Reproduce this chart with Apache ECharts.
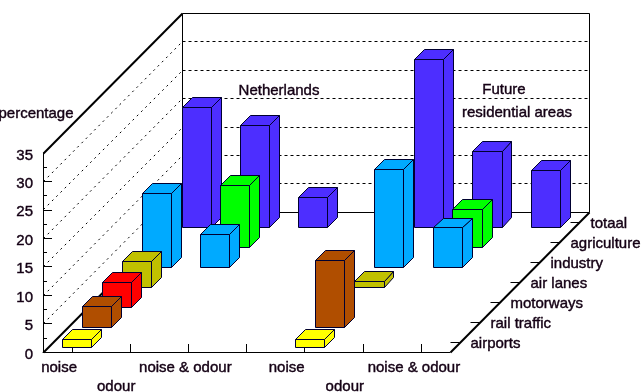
<!DOCTYPE html>
<html>
<head>
<meta charset="utf-8">
<style>
html, body { margin: 0; padding: 0; background: #fff; overflow: hidden; }
#chart { width: 642px; height: 392px; }
</style>
<script src="https://cdn.jsdelivr.net/npm/echarts@6/dist/echarts.min.js"></script>
</head>
<body>
<div id="chart"></div>
<script>
// categories
var xLabels = ['noise', 'odour', 'noise & odour', '', 'noise', 'odour', 'noise & odour'];
var depthLabels = ['airports', 'rail traffic', 'motorways', 'air lanes', 'industry', 'agriculture', 'totaal'];
var yTicks = [5, 10, 15, 20, 25, 30];

// values per depth row
var airports    = [1.4, null, null, null, 1.4, null, null];
var railTraffic = [3.6, null, null, null, 11.7, null, null];
var motorways   = [4.3, null, null, null, null, null, null];
var airLanes    = [4.6, null, null, null, 0.95, null, null];
var industry    = [13.0, 5.7, null, null, 17.2, 6.9, null];
var agriculture = [null, 10.9, null, null, null, 6.6, null];
var totaal      = [21.1, 17.9, 5.3, null, 29.5, 13.3, 10.0];

var rows = [airports, railTraffic, motorways, airLanes, industry, agriculture, totaal];
var rowColors = ['#ffff00', '#b04e00', '#ff0000', '#c0c000', '#00aaff', '#00ff00', '#4d2eff'];

var FONT = '"Liberation Sans", Arial, sans-serif';
var FONT_SIZE = 15;
var TEXT = '#140014';
var HEAVY = 0.4;    // the reference text is drawn a bit heavier than regular
var EDGE = '#000030';
var STEP = 19.95;   // screen shift per depth row, right and up
var BAR_W = 0.25;   // half bar width, as part of a category band

// x label offset to the left and second row flag
var labelShift = [13, 14, 3, 0, 18, 18, 7];
var labelRow = [0, 1, 0, 0, 0, 1, 0];

var rich = {};
labelShift.forEach(function (s, i) {
    rich['l' + i] = {
        fontFamily: FONT, fontSize: FONT_SIZE, color: TEXT,
        textBorderColor: TEXT, textBorderWidth: HEAVY,
        padding: [labelRow[i] ? 19 : 0, s * 2, 0, 0]
    };
});

function crisp(v) { return Math.round(v - 0.5) + 0.5; }

// category + value + depth to screen
function project(api, cat, shift, val, depth) {
    var p = api.coord([cat, val]);
    var band = api.size([1, 0])[0];
    return [crisp(p[0] + shift * band + depth * STEP), crisp(p[1] - depth * STEP)];
}

function poly(points, fill) {
    return {
        type: 'polygon',
        shape: { points: points },
        style: { fill: fill, stroke: EDGE, lineWidth: 1 }
    };
}

function line(a, b, width, dash) {
    return {
        type: 'line',
        shape: { x1: a[0], y1: a[1], x2: b[0], y2: b[1] },
        style: { stroke: '#000', lineWidth: width, lineDash: dash || null }
    };
}

function label_style(text, align) {
    return {
        text: text, fill: TEXT, stroke: TEXT, lineWidth: HEAVY,
        font: FONT_SIZE + 'px ' + FONT,
        textAlign: align, textVerticalAlign: 'middle'
    };
}

function render_walls(params, api) {
    var n = xLabels.length, d = depthLabels.length, ymax = 35;
    var L = -0.5, R = n - 0.5;
    function at(x, v, dp) { return project(api, 0, x, v, dp); }
    var kids = [
        line(at(L, ymax, d), at(R, ymax, d), 1),
        line(at(L, 0, d), at(R, 0, d), 1),
        line(at(L, 0, d), at(L, ymax, d), 1),
        line(at(R, 0, d), at(R, ymax, d), 1),
        line(at(L, 0, 0), at(L, 0, d), 2),
        line(at(L, ymax, 0), at(L, ymax, d), 2),
        line(at(R, 0, 0), at(R, 0, d), 2)
    ];
    yTicks.forEach(function (v) {
        kids.push(line(at(L, v, 0), at(L, v, d), 1, [2, 4]));
        kids.push(line(at(L, v, d), at(R, v, d), 1, [3, 3]));
    });
    depthLabels.forEach(function (name, i) {
        var p = at(R, 0, i + 0.5);
        kids.push(line([p[0] - 9, p[1]], p, 1));
        kids.push({
            type: 'text',
            x: p[0] + 11,
            y: p[1] + 1,
            style: label_style(name, 'left')
        });
    });
    return { type: 'group', children: kids };
}

function bar_renderer(depth, color) {
    return function (params, api) {
        var c = api.value(0), v = api.value(1);
        if (v == null || isNaN(v)) return;
        var d0 = depth + 0.25, d1 = depth + 0.75;
        var a = project(api, c, -BAR_W, 0, d0);
        var b = project(api, c, BAR_W, 0, d0);
        var e = project(api, c, BAR_W, v, d0);
        var f = project(api, c, -BAR_W, v, d0);
        var g = project(api, c, BAR_W, 0, d1);
        var h = project(api, c, BAR_W, v, d1);
        var k = project(api, c, -BAR_W, v, d1);
        return {
            type: 'group',
            children: [
                poly([b, g, h, e], color),
                poly([f, e, h, k], color),
                poly([a, b, e, f], color)
            ]
        };
    };
}

var seriesList = [{
    type: 'custom',
    coordinateSystem: 'cartesian2d',
    silent: true,
    data: [[0, 0]],
    renderItem: render_walls
}];

// back row first so the front rows paint over it
for (var r = rows.length - 1; r >= 0; r--) {
    seriesList.push({
        name: depthLabels[r],
        type: 'custom',
        coordinateSystem: 'cartesian2d',
        silent: true,
        encode: { x: 0, y: 1 },
        data: rows[r].map(function (v, i) { return [i, v]; }),
        renderItem: bar_renderer(r, rowColors[r])
    });
}

var chart = echarts.init(document.getElementById('chart'), null, { renderer: 'canvas' });
chart.setOption({
    animation: false,
    backgroundColor: '#fff',
    grid: { left: 43, top: 153, width: 407, height: 199, containLabel: false, outerBoundsMode: 'none' },
    xAxis: {
        type: 'category',
        data: xLabels,
        axisLine: { lineStyle: { color: '#000', width: 1 } },
        axisTick: { show: true, inside: true, length: 8, alignWithLabel: true, lineStyle: { color: '#000' } },
        axisLabel: {
            interval: 0,
            hideOverlap: false,
            margin: 8,
            fontFamily: FONT,
            fontSize: FONT_SIZE,
            color: TEXT,
            rich: rich,
            formatter: function (value, index) {
                return value ? '{l' + index + '|' + value + '}' : '';
            }
        },
        splitLine: { show: false }
    },
    yAxis: {
        type: 'value',
        min: 0,
        max: 35,
        interval: 5,
        name: 'percentage',
        nameLocation: 'end',
        nameGap: 32,
        nameTextStyle: {
            fontFamily: FONT, fontSize: FONT_SIZE, color: TEXT,
            textBorderColor: TEXT, textBorderWidth: HEAVY,
            align: 'center', padding: [0, 0, 0, -14]
        },
        axisLine: { show: true, lineStyle: { color: '#000', width: 1 } },
        axisTick: { show: true, inside: true, length: 9, customValues: yTicks, lineStyle: { color: '#000' } },
        minorTick: { show: true, splitNumber: 2, length: 4, lineStyle: { color: '#000' } },
        axisLabel: {
            margin: 10,
            formatter: '{v|{value}}',
            rich: {
                v: {
                    fontFamily: FONT, fontSize: FONT_SIZE, color: TEXT,
                    textBorderColor: TEXT, textBorderWidth: HEAVY,
                    padding: [5, 0, 0, 0]
                }
            }
        },
        splitLine: { show: false }
    },
    graphic: [
        { type: 'text', x: 279, y: 91, z: 10, style: label_style('Netherlands', 'center') },
        { type: 'text', x: 504, y: 90, z: 10, style: label_style('Future', 'center') },
        { type: 'text', x: 517, y: 113, z: 10, style: label_style('residential areas', 'center') }
    ],
    series: seriesList
});
</script>
</body>
</html>
